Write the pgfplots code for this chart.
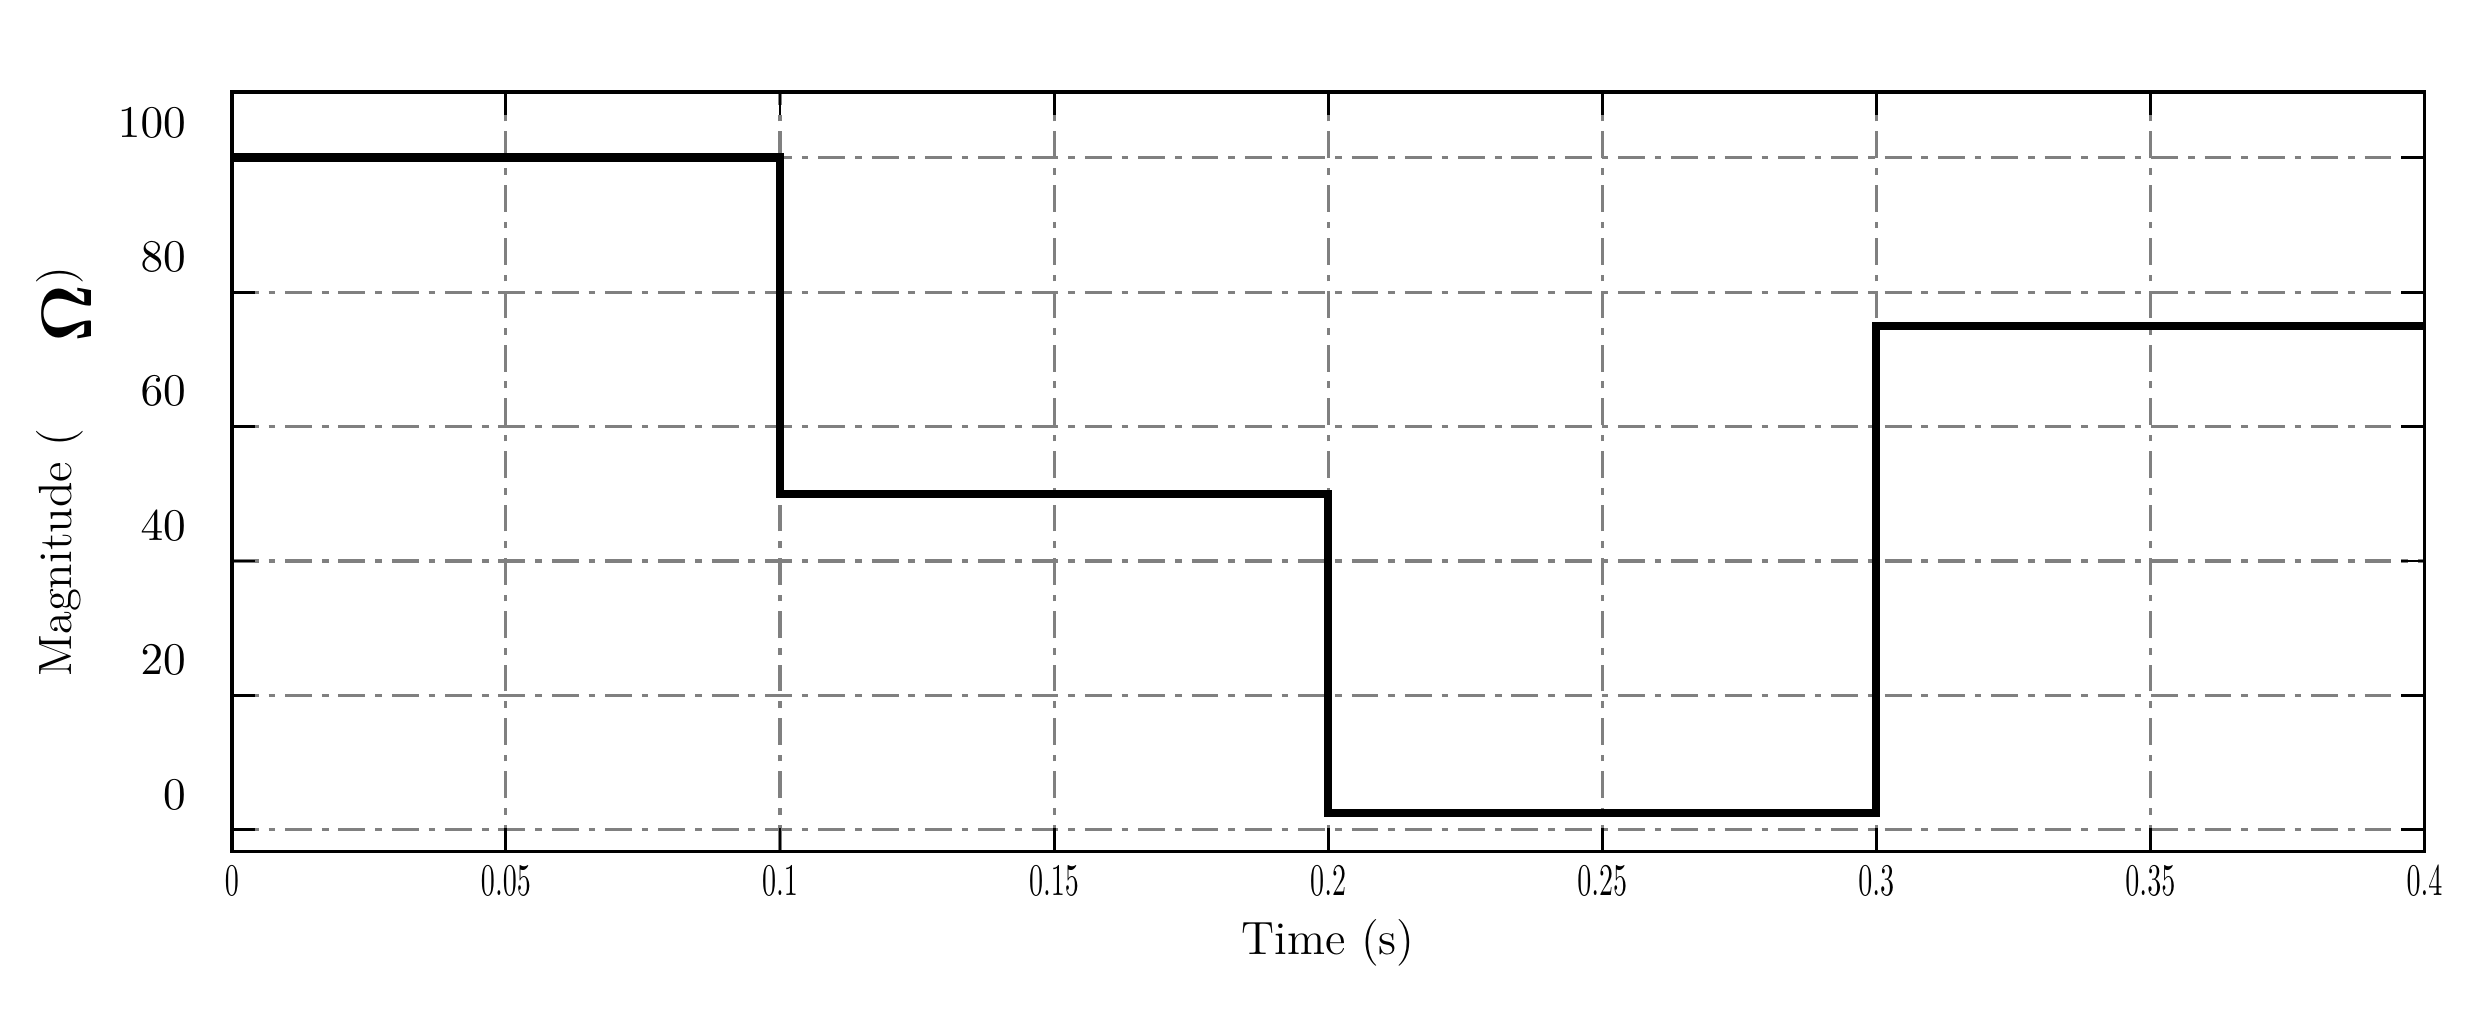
\documentclass[border=0pt]{standalone}
\usepackage{amsmath}
\usepackage{amsbsy}
\usepackage{graphicx}
\usepackage{pgfplots}
\pgfplotsset{compat=1.18}

\newcommand{\nx}[1]{\scalebox{0.62}[1]{$#1$}}

\begin{document}
\begin{tikzpicture}
  \begin{axis}[
      width=530.5pt, height=183.8pt,
      scale only axis,
      xmin=0, xmax=0.4,
      ymin=-3.2, ymax=109.8,
      xtick={0,0.05,...,0.4},
      xticklabels={\nx{0},\nx{0.05},\nx{0.1},\nx{0.15},\nx{0.2},\nx{0.25},\nx{0.3},\nx{0.35},\nx{0.4}},
      ytick={0,20,...,100},
      tick align=inside,
      major tick length=5.6pt,
      every tick/.style={black, line width=0.7pt},
      axis line style={line width=0.9pt},
      grid=major,
      major grid style={black!50, line width=0.75pt,
        dash pattern=on 6.5pt off 2.4pt on 1.6pt off 2.4pt},
      tick label style={font=\fontsize{11.3}{13}\selectfont},
      yticklabel style={xshift=-7.6pt, yshift=8.5pt},
      label style={font=\fontsize{11.3}{13}\selectfont},
      xlabel={Time (s)},
      xlabel style={yshift=1pt},
      ylabel={Magnitude (\hspace{21pt}\raisebox{-4.8pt}{\fontsize{18}{20}\selectfont$\boldsymbol{\Omega}$})},
      ylabel style={at={(axis description cs:-0.073,0.5)}, anchor=base},
    ]
    % step profile of the magnitude
    \addplot[black, line width=2pt, line join=miter] coordinates {
      (0,100) (0.1,100) (0.1,50) (0.2,50)
      (0.2,2.5) (0.3,2.5) (0.3,75) (0.4,75)
    };
  \end{axis}
  \path ([xshift=-56.1pt,yshift=-39.2pt]current axis.south west)
        ([xshift=13.2pt,yshift=22.2pt]current axis.north east);
\end{tikzpicture}
\end{document}
